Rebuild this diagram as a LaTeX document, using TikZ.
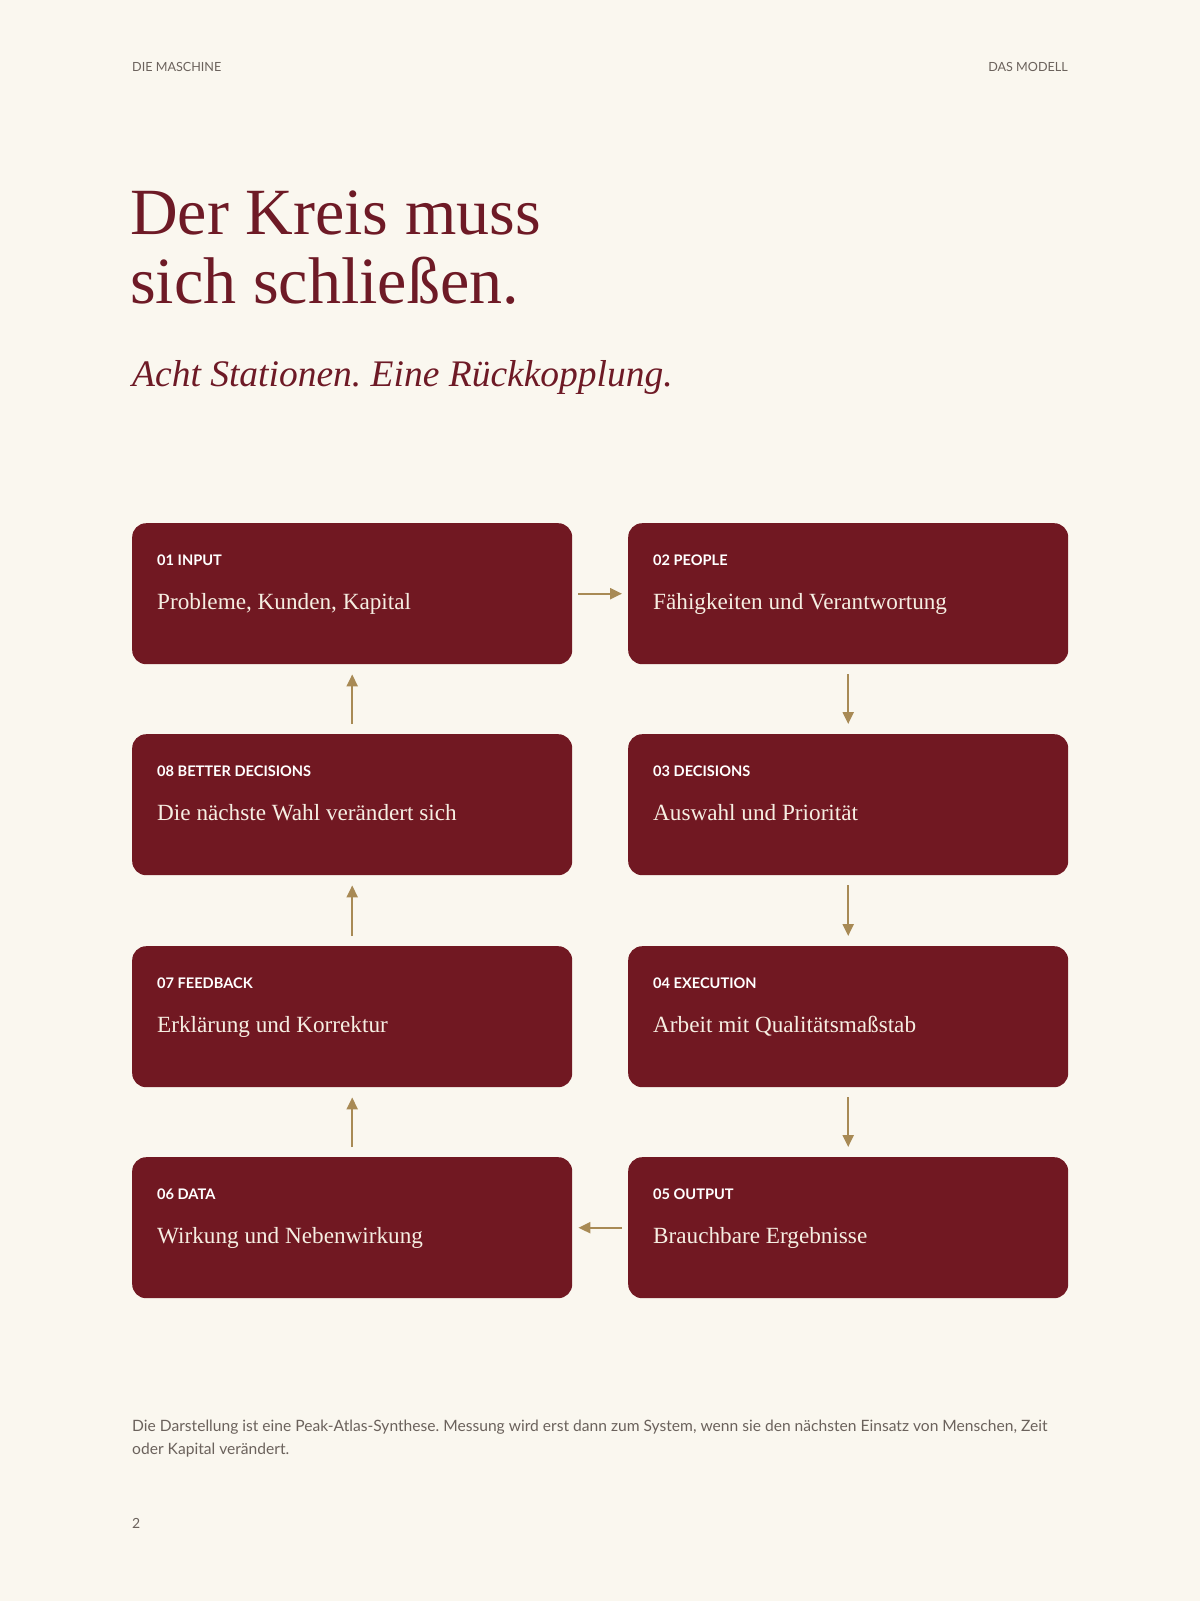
\documentclass[tikz,border=0pt]{standalone}
\usepackage{fontspec}
\setmainfont{Liberation Serif}
\newfontfamily\lato{Lato}
\usetikzlibrary{arrows.meta}
\frenchspacing
\definecolor{bg}{HTML}{FAF7EF}
\definecolor{wine}{HTML}{711822}
\definecolor{titlecol}{HTML}{6E1A26}
\definecolor{gold}{HTML}{A88A55}
\definecolor{graytxt}{HTML}{6B625C}
\definecolor{cream}{HTML}{F6EEE2}
\tikzset{
  stbox/.style={fill=wine, draw=none, rounded corners=14pt, minimum width=440pt, minimum height=141pt, anchor=north west, inner sep=0pt},
  lbl/.style={anchor=base west, inner sep=0pt, text=white, font=\lato\bfseries\fontsize{14.6}{18}\selectfont},
  body/.style={anchor=base west, inner sep=0pt, text=cream, font=\fontsize{23.2}{27}\selectfont},
  flow/.style={draw=gold, line width=2.2pt, -{Triangle[length=12pt,width=11pt]}},
  hdr/.style={inner sep=0pt, text=graytxt, font=\lato\fontsize{12.6}{16}\selectfont},
}
\begin{document}
\frenchspacing
\begin{tikzpicture}[x=1pt,y=-1pt]
\fill[bg] (0,0) rectangle (1200,1601);
\useasboundingbox (0,0) rectangle (1200,1601);

\node[hdr, anchor=base west] (h1) at (132,71) {DIE MASCHINE};
\node[hdr, anchor=base east] (h2) at (1068,71) {DAS MODELL};

\node[anchor=base west, inner sep=0pt, text=titlecol, font=\fontsize{66}{69}\selectfont] (t1) at (130,234) {Der Kreis muss};
\node[anchor=base west, inner sep=0pt, text=titlecol, font=\fontsize{66}{69}\selectfont] (t2) at (130,303) {sich schließen.};
\node[anchor=base west, inner sep=0pt, text=titlecol, font=\itshape\fontsize{37.5}{40}\selectfont] (sub) at (132,386) {Acht Stationen. Eine Rückkopplung.};

% boxes
\node[stbox] (n1) at (132,523) {};
\node[stbox] (n2) at (628,523) {};
\node[stbox] (n8) at (132,734) {};
\node[stbox] (n3) at (628,734) {};
\node[stbox] (n7) at (132,946) {};
\node[stbox] (n4) at (628,946) {};
\node[stbox] (n6) at (132,1157) {};
\node[stbox] (n5) at (628,1157) {};

\node[lbl] (l1) at (157,565) {01 INPUT};
\node[body] (b1) at (157,609) {Probleme, Kunden, Kapital};
\node[lbl] (l2) at (653,565) {02 PEOPLE};
\node[body] (b2) at (653,609) {Fähigkeiten und Verantwortung};
\node[lbl] (l8) at (157,776) {08 BETTER DECISIONS};
\node[body] (b8) at (157,820) {Die nächste Wahl verändert sich};
\node[lbl] (l3) at (653,776) {03 DECISIONS};
\node[body] (b3) at (653,820) {Auswahl und Priorität};
\node[lbl] (l7) at (157,988) {07 FEEDBACK};
\node[body] (b7) at (157,1032) {Erklärung und Korrektur};
\node[lbl] (l4) at (653,988) {04 EXECUTION};
\node[body] (b4) at (653,1032) {Arbeit mit Qualitätsmaßstab};
\node[lbl] (l6) at (157,1199) {06 DATA};
\node[body] (b6) at (157,1243) {Wirkung und Nebenwirkung};
\node[lbl] (l5) at (653,1199) {05 OUTPUT};
\node[body] (b5) at (653,1243) {Brauchbare Ergebnisse};

% connectors
\draw[flow, shorten <=6pt, shorten >=6pt] (n1.east) -- (n2.west);
\draw[flow, shorten <=10pt, shorten >=10pt] (n2.south) -- (n3.north);
\draw[flow, shorten <=10pt, shorten >=10pt] (n3.south) -- (n4.north);
\draw[flow, shorten <=10pt, shorten >=10pt] (n4.south) -- (n5.north);
\draw[flow, shorten <=6pt, shorten >=6pt] (n5.west) -- (n6.east);
\draw[flow, shorten <=10pt, shorten >=10pt] (n6.north) -- (n7.south);
\draw[flow, shorten <=10pt, shorten >=10pt] (n7.north) -- (n8.south);
\draw[flow, shorten <=10pt, shorten >=10pt] (n8.north) -- (n1.south);

% footer
\node[anchor=base west, inner sep=0pt, text=graytxt, font=\lato\fontsize{15.6}{23}\selectfont, align=left] (foot) at (132,1454) {Die Darstellung ist eine Peak-Atlas-Synthese. Messung wird erst dann zum System, wenn sie den nächsten Einsatz von Menschen, Zeit\\oder Kapital verändert.};
\node[hdr, anchor=base west, font=\lato\fontsize{14}{16}\selectfont] (pg) at (132,1528) {2};
\end{tikzpicture}
\end{document}
